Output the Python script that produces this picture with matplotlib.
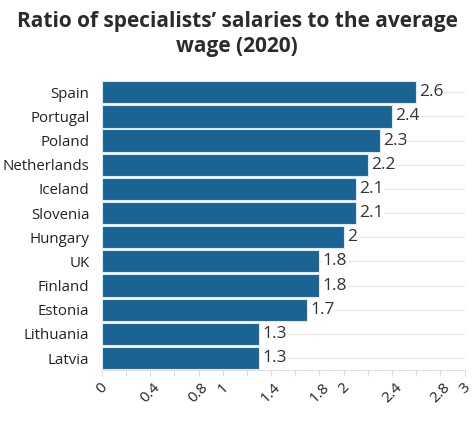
import numpy as np
import matplotlib.pyplot as plt

plt.rcParams['font.family'] = ['Open Sans', 'DejaVu Sans']

countries = ['Spain', 'Portugal', 'Poland', 'Netherlands', 'Iceland', 'Slovenia',
             'Hungary', 'UK', 'Finland', 'Estonia', 'Lithuania', 'Latvia']
ratios = [2.6, 2.4, 2.3, 2.2, 2.1, 2.1, 2.0, 1.8, 1.8, 1.7, 1.3, 1.3]
value_labels = ['2.6', '2.4', '2.3', '2.2', '2.1', '2.1', '2', '1.8', '1.8', '1.7', '1.3', '1.3']

tick_pos = np.round(np.arange(0, 3.01, 0.2), 1)
shown = {0.0: '0', 0.4: '0.4', 0.8: '0.8', 1.0: '1', 1.4: '1.4', 1.8: '1.8',
         2.0: '2', 2.4: '2.4', 2.8: '2.8', 3.0: '3'}
tick_labels = [shown.get(t, '') for t in tick_pos]

fig = plt.figure(figsize=(4.74, 4.22), dpi=100)
ax = fig.add_axes([0.215, 0.123, 0.765, 0.687])

y = np.arange(len(countries))
ax.set_xlim(0, 3)
ax.set_ylim(len(countries) - 0.5, -0.5)

for yi in y:
    ax.axhline(yi, color='#e6e6e6', linewidth=0.8, zorder=0)

ax.barh(y, ratios, height=0.92, color='#1b6392', edgecolor='#dbe9f2',
        linewidth=0.8, zorder=2)

for yi, v, lab in zip(y, ratios, value_labels):
    ax.text(v + 0.025, yi, lab, va='center', ha='left', fontsize=12.5,
            color='#333333', zorder=3,
            bbox=dict(facecolor='white', edgecolor='none', pad=0.5))

ax.set_yticks(y)
ax.set_yticklabels(countries, fontsize=10.8, color='#222222')
ax.tick_params(axis='y', length=0, pad=9)

ax.set_xticks(tick_pos)
ax.set_xticklabels(tick_labels, rotation=45, ha='center', fontsize=11,
                   color='#222222')
ax.tick_params(axis='x', length=4, color='#dddddd', pad=3)

for s in ['top', 'right', 'left']:
    ax.spines[s].set_visible(False)
ax.spines['bottom'].set_color('#e0e0e0')

fig.suptitle('Ratio of specialists\u2019 salaries to the average\nwage (2020)',
             fontsize=15, fontweight='bold', color='#2b2b2b', y=0.975,
             linespacing=1.3)

fig.savefig('out.png', dpi=100)
